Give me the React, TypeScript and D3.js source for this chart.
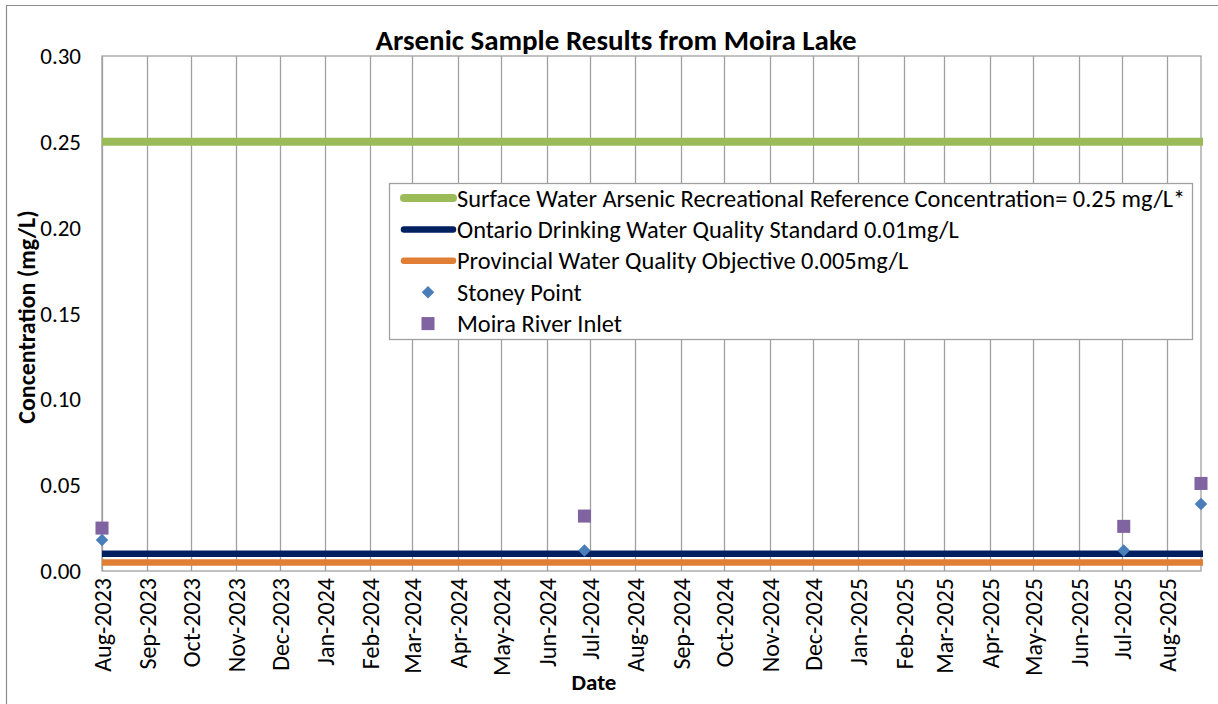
import React, { useEffect, useRef } from 'react';
import * as d3 from 'd3';

// sample dates and results (mg/L)
const sampleDates = ['2023-08-01', '2024-06-27', '2025-07-02', '2025-08-24'];
const stoneyPoint = [0.018, 0.012, 0.012, 0.039];
const moiraRiverInlet = [0.025, 0.032, 0.026, 0.051];

// reference levels
const referenceNames = [
  'Surface Water Arsenic Recreational Reference Concentration= 0.25 mg/L*',
  'Ontario Drinking Water Quality Standard 0.01mg/L',
  'Provincial Water Quality Objective 0.005mg/L',
];
const referenceValues = [0.25, 0.01, 0.005];
const referenceColors = ['#9BBB59', '#002060', '#E07E35'];
const referenceWidths = [8, 6.5, 6.5];

const yTicks = [0, 0.05, 0.1, 0.15, 0.2, 0.25, 0.3];
const axisStart = '2023-08-01';
const axisEnd = '2025-08-24';

const FONT = 'Carlito, Lato, "Open Sans", sans-serif';

const ArsenicChart: React.FC = () => {
  const svgRef = useRef<SVGSVGElement>(null);

  useEffect(() => {
    if (!svgRef.current) return;
    const width = 1218;
    const height = 704;
    const plot = { left: 102, right: 1201, top: 56, bottom: 571 };

    const svg = d3.select(svgRef.current);
    svg.selectAll('*').remove();
    svg.attr('width', width).attr('height', height);

    const parse = d3.timeParse('%Y-%m-%d');
    const x = d3.scaleTime()
      .domain([parse(axisStart)!, parse(axisEnd)!])
      .range([plot.left, plot.right]);
    const y = d3.scaleLinear().domain([0, 0.3]).range([plot.bottom, plot.top]);

    // chart frame
    svg.append('path')
      .attr('d', `M6.5,${height} V5.5 H${width}`)
      .attr('fill', 'none')
      .attr('stroke', '#8c8c8c')
      .attr('stroke-width', 1.2);

    svg.append('rect')
      .attr('x', plot.left)
      .attr('y', plot.top)
      .attr('width', plot.right - plot.left)
      .attr('height', plot.bottom - plot.top)
      .attr('fill', 'white')
      .attr('stroke', '#a0a0a0')
      .attr('stroke-width', 1.3);

    const months = d3.timeMonth.range(x.domain()[0], x.domain()[1]);

    // vertical gridlines
    svg.append('g')
      .selectAll('line')
      .data(months)
      .enter()
      .append('line')
      .attr('x1', d => Math.round(x(d)) + 0.5)
      .attr('x2', d => Math.round(x(d)) + 0.5)
      .attr('y1', plot.top)
      .attr('y2', plot.bottom)
      .attr('stroke', '#a0a0a0')
      .attr('stroke-width', 1.3);

    // x tick labels
    svg.append('g')
      .selectAll('text')
      .data(months)
      .enter()
      .append('text')
      .attr('transform', d => `translate(${x(d) + 9},${plot.bottom + 7}) rotate(-90)`)
      .attr('text-anchor', 'end')
      .attr('font-family', FONT)
      .attr('font-size', 24)
      .attr('fill', '#000')
      .text(d => d3.timeFormat('%b-%Y')(d));

    // y tick labels
    svg.append('g')
      .selectAll('text')
      .data(yTicks)
      .enter()
      .append('text')
      .attr('x', 81)
      .attr('y', d => y(d))
      .attr('dy', '0.35em')
      .attr('text-anchor', 'end')
      .attr('font-family', FONT)
      .attr('font-size', 23)
      .attr('fill', '#000')
      .text(d => d3.format('.2f')(d));

    // reference lines
    referenceValues.forEach((v, i) => {
      svg.append('line')
        .attr('x1', plot.left)
        .attr('x2', plot.right + 2)
        .attr('y1', y(v))
        .attr('y2', y(v))
        .attr('stroke', referenceColors[i])
        .attr('stroke-width', referenceWidths[i]);
    });

    const points = sampleDates.map((d, i) => ({
      date: parse(d)!,
      stoney: stoneyPoint[i],
      moira: moiraRiverInlet[i],
    }));

    const diamond = d3.symbol().type(d3.symbolDiamond2).size(100);
    const square = d3.symbol().type(d3.symbolSquare).size(170);

    svg.append('g')
      .selectAll('path')
      .data(points)
      .enter()
      .append('path')
      .attr('d', square)
      .attr('transform', d => `translate(${x(d.date)},${y(d.moira)})`)
      .attr('fill', '#8064A2');

    svg.append('g')
      .selectAll('path')
      .data(points)
      .enter()
      .append('path')
      .attr('d', diamond)
      .attr('transform', d => `translate(${x(d.date)},${y(d.stoney)})`)
      .attr('fill', '#4A7EBB');

    // title
    svg.append('text')
      .attr('x', 616)
      .attr('y', 50)
      .attr('text-anchor', 'middle')
      .attr('font-family', FONT)
      .attr('font-weight', 'bold')
      .attr('font-size', 29)
      .attr('fill', '#000')
      .text('Arsenic Sample Results from Moira Lake');

    // axis titles
    svg.append('text')
      .attr('transform', `translate(35,317) rotate(-90)`)
      .attr('text-anchor', 'middle')
      .attr('font-family', FONT)
      .attr('font-weight', 'bold')
      .attr('font-size', 24)
      .attr('fill', '#000')
      .text('Concentration (mg/L)');

    svg.append('text')
      .attr('x', 594)
      .attr('y', 690)
      .attr('text-anchor', 'middle')
      .attr('font-family', FONT)
      .attr('font-weight', 'bold')
      .attr('font-size', 23)
      .attr('fill', '#000')
      .text('Date');

    // legend
    const legend = svg.append('g');
    legend.append('rect')
      .attr('x', 389.5)
      .attr('y', 183.5)
      .attr('width', 803)
      .attr('height', 156)
      .attr('fill', 'white')
      .attr('stroke', '#a0a0a0')
      .attr('stroke-width', 1.3);

    const legendSize = 24.4;
    const rowY = (i: number) => 198 + i * 31.4;
    referenceNames.forEach((name, i) => {
      legend.append('line')
        .attr('x1', 404)
        .attr('x2', 453)
        .attr('y1', rowY(i))
        .attr('y2', rowY(i))
        .attr('stroke', referenceColors[i])
        .attr('stroke-width', referenceWidths[i])
        .attr('stroke-linecap', 'round');
      legend.append('text')
        .attr('x', 457)
        .attr('y', rowY(i))
        .attr('dy', '0.35em')
        .attr('font-family', FONT)
        .attr('font-size', legendSize)
        .attr('fill', '#000')
        .text(name);
    });

    legend.append('path')
      .attr('d', diamond)
      .attr('transform', `translate(428,${rowY(3)})`)
      .attr('fill', '#4A7EBB');
    legend.append('text')
      .attr('x', 457)
      .attr('y', rowY(3))
      .attr('dy', '0.35em')
      .attr('font-family', FONT)
      .attr('font-size', legendSize)
      .attr('fill', '#000')
      .text('Stoney Point');

    legend.append('path')
      .attr('d', square)
      .attr('transform', `translate(428,${rowY(4)})`)
      .attr('fill', '#8064A2');
    legend.append('text')
      .attr('x', 457)
      .attr('y', rowY(4))
      .attr('dy', '0.35em')
      .attr('font-family', FONT)
      .attr('font-size', legendSize)
      .attr('fill', '#000')
      .text('Moira River Inlet');
  }, []);

  return (
    <div style={{ position: 'absolute', left: 0, top: 0, background: 'white' }}>
      <svg ref={svgRef} style={{ display: 'block' }}></svg>
    </div>
  );
};

export default function App() {
  return <ArsenicChart />;
}
